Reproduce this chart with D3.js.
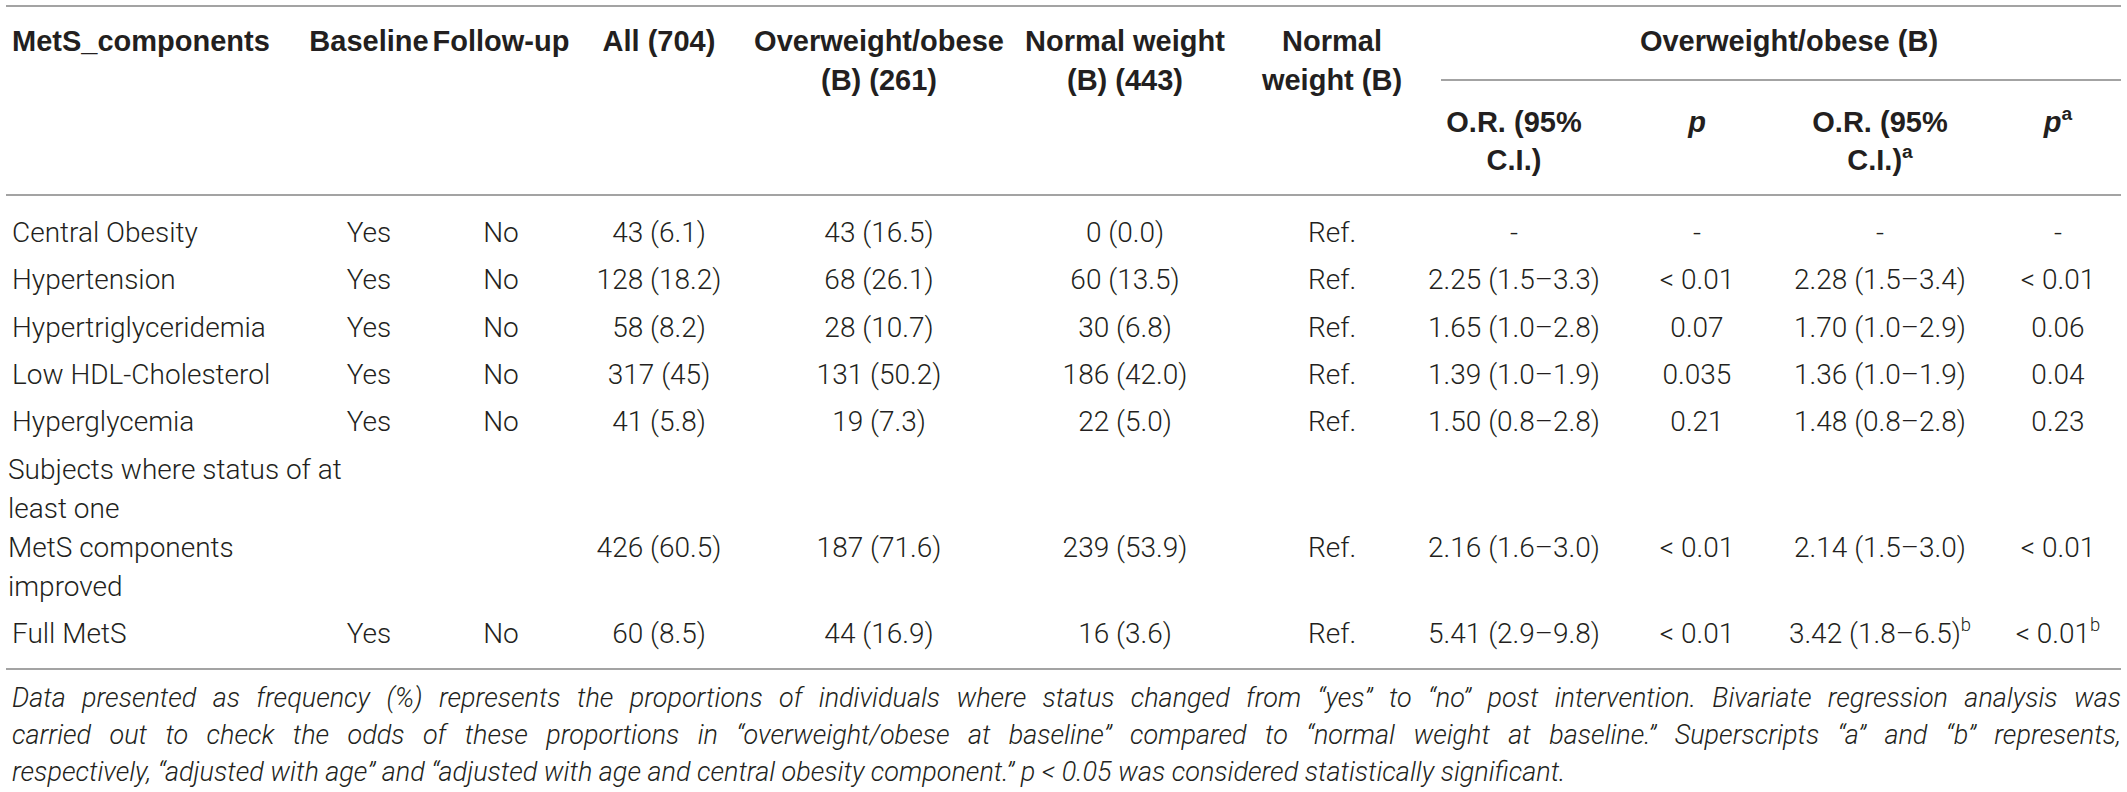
<!DOCTYPE html>
<html>
<head>
<meta charset="utf-8">
<script src="https://cdn.jsdelivr.net/npm/d3@7"></script>
<style>
  html, body { margin: 0; padding: 0; background: #fff; }
  svg { display: block; }
  text { fill: #231f20; }
</style>
</head>
<body>
<div id="chart"></div>
<script>
/* Column headers (* = italic, ^ = superscript) */
const headers = [["MetS_components"], ["Baseline"], ["Follow-up"], ["All (704)"],
  ["Overweight/obese", "(B) (261)"], ["Normal weight", "(B) (443)"], ["Normal", "weight (B)"]];
const groupHeader = "Overweight/obese (B)";
const subHeaders = [["O.R. (95%", "C.I.)"], ["*p"], ["O.R. (95%", "C.I.)^a"], ["*p^a"]];

/* Rows */
const components = ["Central Obesity", "Hypertension", "Hypertriglyceridemia", "Low HDL-Cholesterol",
  "Hyperglycemia", ["Subjects where status of at", "least one", "MetS components", "improved"], "Full MetS"];
const baseline = ["Yes", "Yes", "Yes", "Yes", "Yes", "", "Yes"];
const followUp = ["No", "No", "No", "No", "No", "", "No"];
const allN = ["43 (6.1)", "128 (18.2)", "58 (8.2)", "317 (45)", "41 (5.8)", "426 (60.5)", "60 (8.5)"];
const overweightN = ["43 (16.5)", "68 (26.1)", "28 (10.7)", "131 (50.2)", "19 (7.3)", "187 (71.6)", "44 (16.9)"];
const normalN = ["0 (0.0)", "60 (13.5)", "30 (6.8)", "186 (42.0)", "22 (5.0)", "239 (53.9)", "16 (3.6)"];
const reference = ["Ref.", "Ref.", "Ref.", "Ref.", "Ref.", "Ref.", "Ref."];
const orCrude = ["-", "2.25 (1.5–3.3)", "1.65 (1.0–2.8)", "1.39 (1.0–1.9)", "1.50 (0.8–2.8)", "2.16 (1.6–3.0)", "5.41 (2.9–9.8)"];
const pCrude = ["-", "< 0.01", "0.07", "0.035", "0.21", "< 0.01", "< 0.01"];
const orAdjusted = ["-", "2.28 (1.5–3.4)", "1.70 (1.0–2.9)", "1.36 (1.0–1.9)", "1.48 (0.8–2.8)", "2.14 (1.5–3.0)", "3.42 (1.8–6.5)^b"];
const pAdjusted = ["-", "< 0.01", "0.06", "0.04", "0.23", "< 0.01", "< 0.01^b"];

const footnote = [
  "Data presented as frequency (%) represents the proportions of individuals where status changed from “yes” to “no” post intervention. Bivariate regression analysis was",
  "carried out to check the odds of these proportions in “overweight/obese at baseline” compared to “normal weight at baseline.” Superscripts “a” and “b” represents,",
  "respectively, “adjusted with age” and “adjusted with age and central obesity component.” p < 0.05 was considered statistically significant."
];

const w = 2127, h = 792;
const bodyFont = "Roboto, 'Liberation Sans', sans-serif";
const headFont = "'Liberation Sans', Arial, sans-serif";
const ruleColor = "#a3a3a3";

const svg = d3.select("#chart").append("svg")
  .attr("width", w).attr("height", h)
  .attr("viewBox", [0, 0, w, h]);

/* Column layout */
const colWidths = [304, 118, 146, 170, 270, 222, 192, 172, 194, 172, 184];
const edges = d3.cumsum([6, ...colWidths]);
const left = 6, right = 2121;
const colX = i => i === 0 ? edges[0] + 6 : (edges[i] + edges[i + 1]) / 2;

/* writes a label; "^" starts a superscript, leading "*" means italic */
function label(x, y, str, opts) {
  const o = Object.assign({ anchor: "middle", weight: 300, size: 28, italic: false, font: bodyFont }, opts);
  let italic = o.italic;
  if (str.startsWith("*")) { italic = true; str = str.slice(1); }
  const parts = str.split("^");
  const t = svg.append("text")
    .attr("x", x).attr("y", y)
    .attr("text-anchor", o.anchor)
    .attr("dy", "0.36em")
    .attr("font-family", o.font)
    .attr("font-size", o.size)
    .attr("font-weight", o.weight)
    .attr("font-style", italic ? "italic" : "normal");
  t.append("tspan").text(parts[0]);
  if (parts[1]) {
    t.append("tspan").attr("font-size", o.size * 0.66).attr("dy", -o.size * 0.42)
      .attr("font-style", "normal").text(parts[1]);
  }
  return t;
}

function rule(x1, x2, y) {
  svg.append("line").attr("x1", x1).attr("x2", x2).attr("y1", y).attr("y2", y)
    .attr("stroke", ruleColor).attr("stroke-width", 2);
}

/* Header */
const head = { weight: 700, size: 29, font: headFont };
const headY = [41, 80];
rule(left, right, 6);
headers.forEach((lines, i) => {
  lines.forEach((s, k) => label(colX(i), headY[k], s, Object.assign({ anchor: i === 0 ? "start" : "middle" }, head)));
});
label((edges[7] + edges[11]) / 2, headY[0], groupHeader, head);
rule(1441, right, 80);
const subY = [122, 160];
subHeaders.forEach((lines, j) => {
  lines.forEach((s, k) => label(colX(7 + j), subY[k], s, head));
});
rule(left, right, 195);

/* Body */
const rowPitch = 47.3, linePitch = 39;
const columns = [baseline, followUp, allN, overweightN, normalN, reference, orCrude, pCrude, orAdjusted, pAdjusted];
let y = 232;
components.forEach((c, r) => {
  const lines = Array.isArray(c) ? c : [c];
  lines.forEach((s, k) => label(lines.length > 1 ? edges[0] + 2 : colX(0), y + k * linePitch, s, { anchor: "start" }));
  /* values sit on the "MetS components" line of the wrapped label */
  const vy = y + (lines.length > 1 ? lines.length - 2 : 0) * linePitch;
  columns.forEach((col, j) => { if (col[r]) label(colX(j + 1), vy, col[r]); });
  y += (lines.length - 1) * linePitch + rowPitch;
});
rule(left, right, 669);

/* Footnote, first lines justified */
const noteY = [697, 734, 771];
footnote.forEach((s, k) => {
  const t = label(left + 6, noteY[k], s, { anchor: "start", italic: true, size: 27 });
  if (k < footnote.length - 1) {
    const len = t.node().getComputedTextLength();
    const spaces = s.split(" ").length - 1;
    t.attr("word-spacing", (right - left - 6 - len) / spaces);
  }
});
</script>
</body>
</html>
